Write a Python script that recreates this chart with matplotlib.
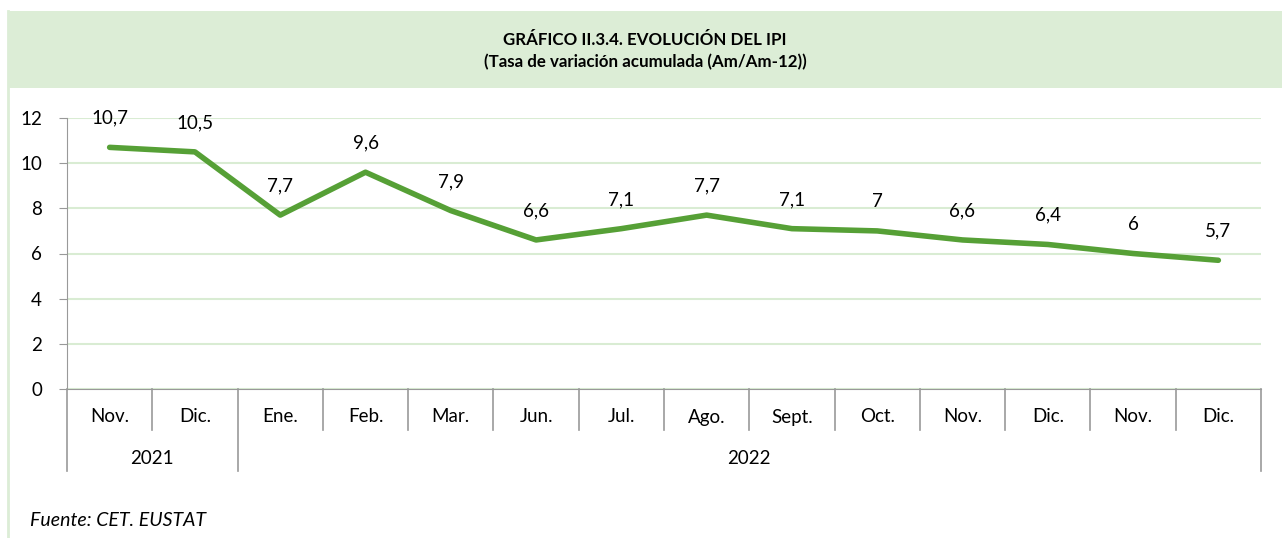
import matplotlib.pyplot as plt
from matplotlib.patches import Rectangle
from matplotlib.lines import Line2D

# data
months = ["Nov.", "Dic.", "Ene.", "Feb.", "Mar.", "Jun.", "Jul.", "Ago.",
          "Sept.", "Oct.", "Nov.", "Dic.", "Nov.", "Dic."]
ipi = [10.7, 10.5, 7.7, 9.6, 7.9, 6.6, 7.1, 7.7, 7.1, 7.0, 6.6, 6.4, 6.0, 5.7]
years = ["2021", "2022"]
year_spans = [(0, 1), (2, 13)]
yticks = [0, 2, 4, 6, 8, 10, 12]

plt.rcParams["font.family"] = ["Lato", "DejaVu Sans"]

W, H = 1282, 538
fig = plt.figure(figsize=(W / 100, H / 100), dpi=100)
fs = 13.5

# header band + left border
fig.patches.append(Rectangle((8 / W, 1 - 88 / H), 1 - 8 / W, 77 / H,
                             transform=fig.transFigure, facecolor="#dcedd6",
                             edgecolor="none", zorder=0))
fig.lines.append(Line2D([8 / W, 8 / W], [0, 1 - 11 / H], transform=fig.transFigure,
                        color="#dcedd6", lw=2))
fig.text(0.5 + 4 / W, 1 - 40 / H, "GRÁFICO II.3.4. EVOLUCIÓN DEL IPI",
         ha="center", va="center", fontsize=12.2, fontweight="bold")
fig.text(0.5 + 4 / W, 1 - 62 / H, "(Tasa de variación acumulada (Am/Am-12))",
         ha="center", va="center", fontsize=12.2, fontweight="bold")
fig.text(30 / W, 1 - 520 / H, "Fuente: CET. EUSTAT", ha="left", va="center",
         fontsize=14, style="italic")

ax = fig.add_axes([67 / W, 1 - 389 / H, (1261 - 67) / W, (389 - 118) / H])
x = list(range(len(months)))
ax.plot(x, ipi, color="#56a036", lw=4, solid_capstyle="round", solid_joinstyle="round", zorder=3)
for xi, v in zip(x, ipi):
    lbl = f"{v:g}".replace(".", ",")
    ax.annotate(lbl, (xi, v), xytext=(0, 21), textcoords="offset points",
                ha="center", va="center", fontsize=fs)

ax.set_xlim(-0.5, len(months) - 0.5)
ax.set_ylim(0, 12)
ax.set_yticks(yticks)
ax.set_yticklabels([str(t) for t in yticks], fontsize=fs)
ax.grid(axis="y", color="#d9ecd3", lw=1.5, zorder=0)
ax.set_axisbelow(True)
ax.set_xticks([])
for s in ["top", "right"]:
    ax.spines[s].set_visible(False)
ax.spines["left"].set_color("#999999")
ax.spines["bottom"].set_color("#999999")
ax.tick_params(axis="y", length=6, color="#999999", pad=12)

# category separators under the axis
h1 = 41 / 271
h2 = 82 / 271
trans = ax.get_xaxis_transform()
for i in range(len(months) + 1):
    b = i - 0.5
    depth = h2 if b in (-0.5, 1.5, len(months) - 0.5) else h1
    ax.plot([b, b], [0, -depth], transform=trans, color="#999999", lw=1.2, clip_on=False)
for xi, m in zip(x, months):
    ax.text(xi, -28 / 271, m, transform=trans, ha="center", va="center", fontsize=fs)
for yr, (a, b) in zip(years, year_spans):
    ax.text((a + b) / 2, -69 / 271, yr, transform=trans, ha="center", va="center", fontsize=fs)

fig.savefig("out.png", dpi=100)
